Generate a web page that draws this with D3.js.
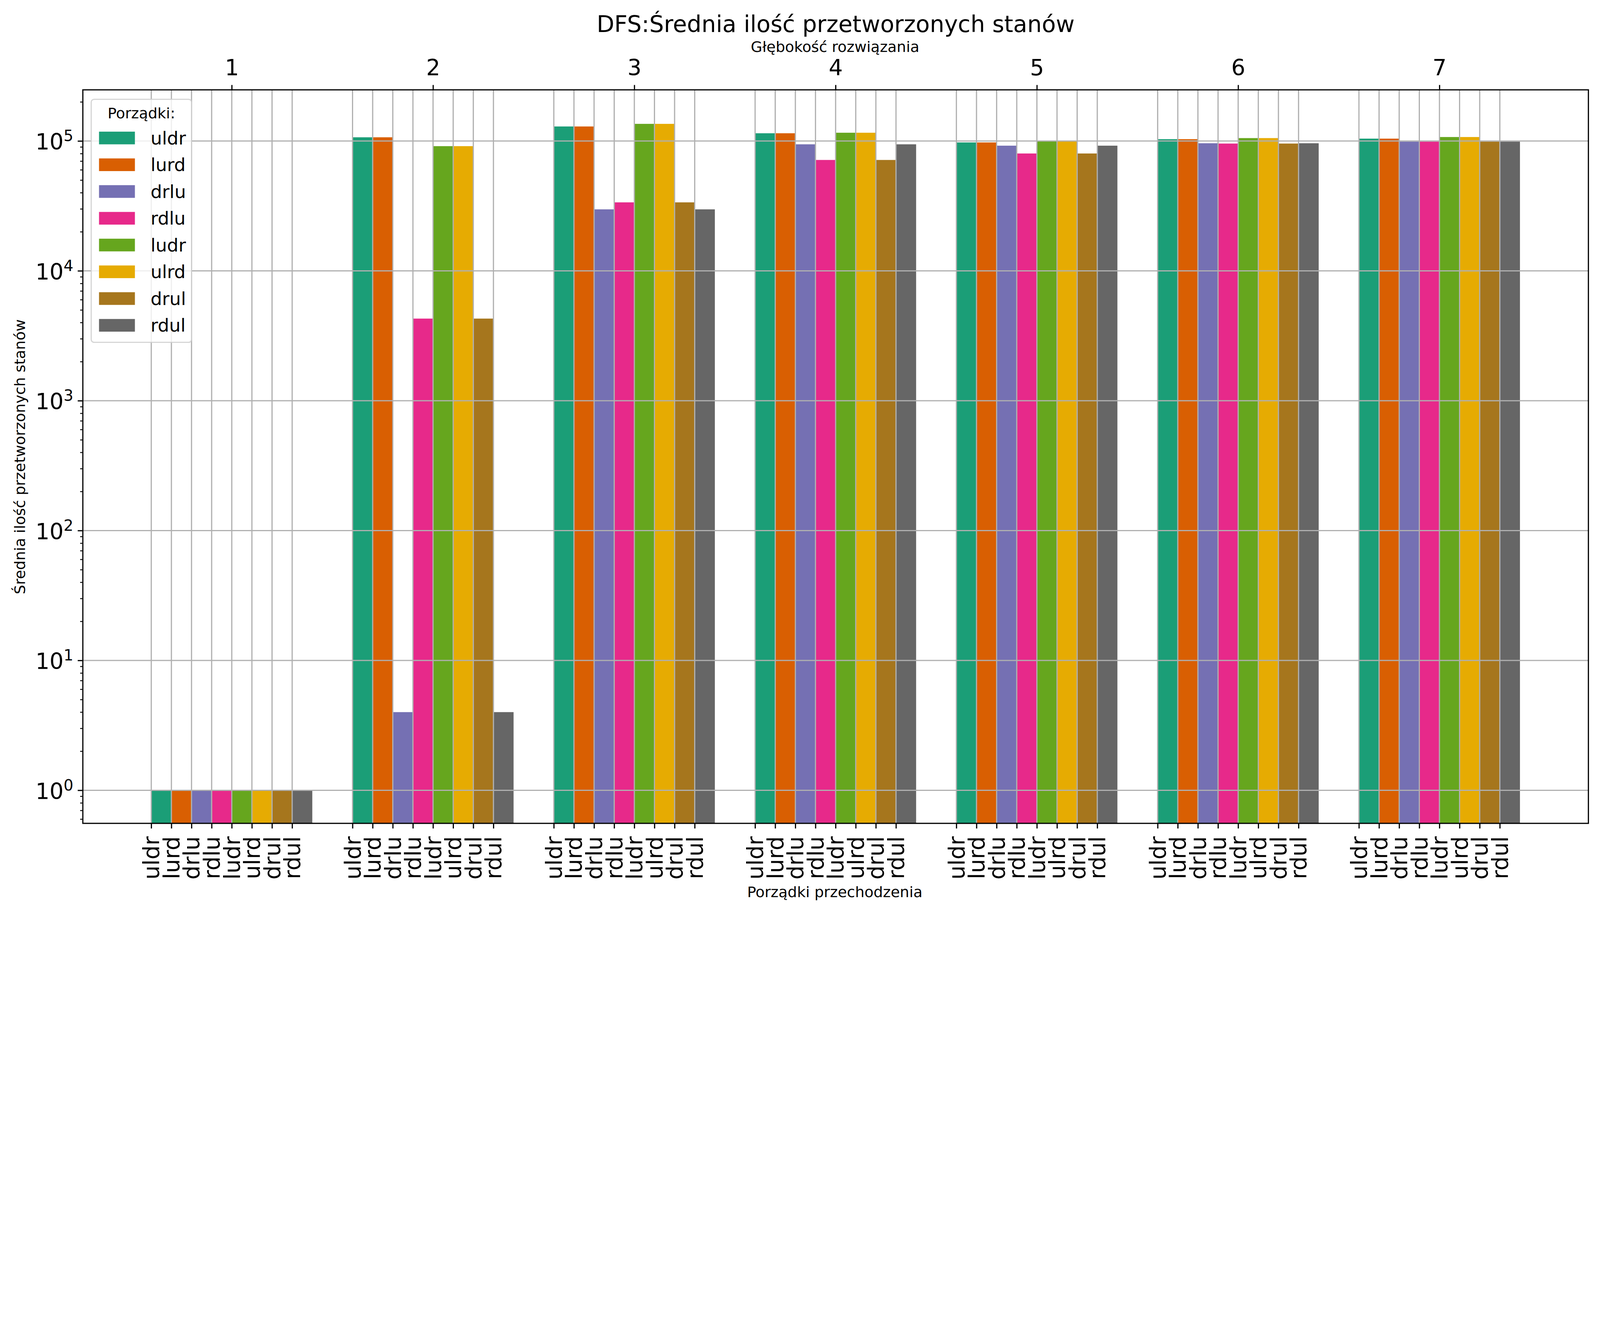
<!DOCTYPE html>
<html>
<head>
<meta charset="utf-8">
<script src="https://cdn.jsdelivr.net/npm/d3@7"></script>
<style>
  html, body { margin: 0; padding: 0; background: #fff; overflow: hidden; }
  svg { display: block; width: 100vw; height: auto; }
  text { font-family: "DejaVu Sans", sans-serif; fill: #000; }
</style>
</head>
<body>
<div id="chart"></div>
<script>
// Solution depths (top axis) and traversal orders (bars in each group)
var depths = [1, 2, 3, 4, 5, 6, 7];
var orders = ["uldr", "lurd", "drlu", "rdlu", "ludr", "ulrd", "drul", "rdul"];
var colors = ["#1b9e77", "#d95f02", "#7570b3", "#e7298a", "#66a61e", "#e6ab02", "#a6761d", "#666666"];

// Average number of processed states per order, depth 1..7
var uldr = [1, 106800, 129400, 114700, 97500, 103300, 104300];
var lurd = [1, 106800, 129400, 114700, 97500, 103300, 104300];
var drlu = [1, 4, 29760, 94300, 92060, 96100, 99000];
var rdlu = [1, 4290, 33690, 71450, 80150, 95600, 99000];
var ludr = [1, 91270, 135500, 115800, 99500, 105300, 107300];
var ulrd = [1, 91270, 135500, 115800, 99500, 105300, 107300];
var drul = [1, 4290, 33690, 71450, 80150, 95600, 99000];
var rdul = [1, 4, 29760, 94300, 92060, 96100, 99000];
var series = [uldr, lurd, drlu, rdlu, ludr, ulrd, drul, rdul];

var yTicks = [1, 10, 100, 1000, 10000, 100000];

// SVG area
var svgWidth = 5930;
var svgHeight = 3372;
var margin = { top: 333, right: 43, bottom: 320, left: 307 };
var chartWidth = svgWidth - margin.left - margin.right;
var chartHeight = svgHeight - margin.top - margin.bottom;

var svg = d3.select("#chart")
  .append("svg")
  .attr("viewBox", `0 0 ${svgWidth} ${svgHeight}`)
  .attr("preserveAspectRatio", "xMidYMin meet")
  .style("background", "#fff");

var chartGroup = svg.append("g")
  .attr("transform", `translate(${margin.left}, ${margin.top})`);

var barWidth = 0.1;
var xScale = d3.scaleLinear().domain([-0.74, 6.74]).range([0, chartWidth]);
var yScale = d3.scaleLog()
  .domain([Math.pow(10, -0.2545), Math.pow(10, 5.394)])
  .range([chartHeight, 0]);

// Bars: each order k in group i starts at i + (k-4)*0.1
var barData = [];
series.forEach(function(vals, k) {
  vals.forEach(function(v, i) {
    barData.push({ k: k, x0: i + (k - 4) * barWidth, value: v });
  });
});

chartGroup.selectAll("rect.bar").data(barData).enter().append("rect")
  .attr("class", "bar")
  .attr("x", d => xScale(d.x0))
  .attr("width", d => xScale(d.x0 + barWidth) - xScale(d.x0))
  .attr("y", d => yScale(d.value))
  .attr("height", d => chartHeight - yScale(d.value))
  .attr("fill", d => colors[d.k]);

// Bottom tick positions (left edge of every bar)
var bottomTicks = [];
depths.forEach(function(dep, i) {
  orders.forEach(function(o, k) { bottomTicks.push(i + (k - 4) * barWidth); });
});

// Grid (drawn over the bars)
var grid = chartGroup.append("g").attr("stroke", "#b0b0b0").attr("stroke-width", 4.4);
grid.selectAll("line.v").data(bottomTicks).enter().append("line")
  .attr("x1", d => xScale(d)).attr("x2", d => xScale(d))
  .attr("y1", 0).attr("y2", chartHeight);
grid.selectAll("line.h").data(yTicks).enter().append("line")
  .attr("x1", 0).attr("x2", chartWidth)
  .attr("y1", d => yScale(d)).attr("y2", d => yScale(d));

// Left axis: major ticks with 10^n labels
var leftAxis = d3.axisLeft(yScale).tickValues(yTicks).tickSize(19).tickSizeOuter(0)
  .tickPadding(16).tickFormat(() => "");
var leftG = chartGroup.append("g").call(leftAxis);
leftG.selectAll("text").each(function(d) {
  var t = d3.select(this).attr("dy", null).attr("y", 32).attr("font-size", 82);
  t.append("tspan").text("10");
  t.append("tspan").attr("font-size", 57).attr("dy", -32).text(Math.round(Math.log10(d)));
});

// Left axis: minor ticks
var minorTicks = [];
for (var e = -1; e <= 5; e++) {
  for (var m = 2; m <= 9; m++) {
    var v = m * Math.pow(10, e);
    if (v >= yScale.domain()[0] && v <= yScale.domain()[1]) minorTicks.push(v);
  }
}
var minorG = chartGroup.append("g")
  .call(d3.axisLeft(yScale).tickValues(minorTicks).tickSize(10).tickSizeOuter(0).tickFormat(""));
minorG.selectAll("line").attr("stroke-width", 3.3);

// Bottom axis: order names rotated
var bottomAxis = d3.axisBottom(xScale).tickValues(bottomTicks).tickSize(19).tickSizeOuter(0)
  .tickFormat((d, i) => orders[i % orders.length]);
var bottomG = chartGroup.append("g")
  .attr("transform", `translate(0, ${chartHeight})`)
  .call(bottomAxis);
bottomG.selectAll("text")
  .attr("font-size", 82)
  .attr("transform", "rotate(-90)")
  .attr("text-anchor", "end")
  .attr("x", -48)
  .attr("y", 0)
  .attr("dy", "0.35em");

// Top axis: solution depth
var topAxis = d3.axisTop(xScale).tickValues(depths.map((d, i) => i)).tickSize(18).tickSizeOuter(0)
  .tickPadding(35).tickFormat((d, i) => depths[i]);
var topG = chartGroup.append("g").call(topAxis);
topG.selectAll("text").attr("font-size", 82);

[leftG, minorG, bottomG, topG].forEach(function(g) {
  g.select(".domain").remove();
  g.selectAll(".tick line").attr("stroke", "#000");
  g.attr("font-family", null);
});
leftG.selectAll("line").attr("stroke-width", 4.4);
bottomG.selectAll("line").attr("stroke-width", 4.4);
topG.selectAll("line").attr("stroke-width", 4.4);

// Spines
chartGroup.append("rect")
  .attr("x", 0).attr("y", 0).attr("width", chartWidth).attr("height", chartHeight)
  .attr("fill", "none").attr("stroke", "#000").attr("stroke-width", 4.4);

// Titles and axis labels
svg.append("text").attr("x", 3097).attr("y", 118).attr("text-anchor", "middle")
  .attr("font-size", 85).text("DFS:Średnia ilość przetworzonych stanów");
svg.append("text").attr("x", 3095).attr("y", 193).attr("text-anchor", "middle")
  .attr("font-size", 55).text("Głębokość rozwiązania");
svg.append("text").attr("x", 3094).attr("y", 3326).attr("text-anchor", "middle")
  .attr("font-size", 55).text("Porządki przechodzenia");
svg.append("text").attr("transform", "translate(92, 1693) rotate(-90)").attr("text-anchor", "middle")
  .attr("font-size", 55).text("Średnia ilość przetworzonych stanów");

// Legend
var legend = svg.append("g");
legend.append("rect")
  .attr("x", 338).attr("y", 368).attr("width", 372).attr("height", 901).attr("rx", 11)
  .attr("fill", "#fff").attr("fill-opacity", 0.8)
  .attr("stroke", "#cccccc").attr("stroke-opacity", 0.8).attr("stroke-width", 4.4);
legend.append("text").attr("x", 524).attr("y", 438).attr("text-anchor", "middle")
  .attr("font-size", 55).text("Porządki:");
var rows = legend.selectAll("g.row").data(orders).enter().append("g")
  .attr("transform", (d, k) => `translate(0, ${k * 99.2})`);
rows.append("rect").attr("x", 367).attr("y", 488).attr("width", 133).attr("height", 47)
  .attr("fill", (d, k) => colors[k]);
rows.append("text").attr("x", 558).attr("y", 535).attr("font-size", 67).text(d => d);
</script>
</body>
</html>
